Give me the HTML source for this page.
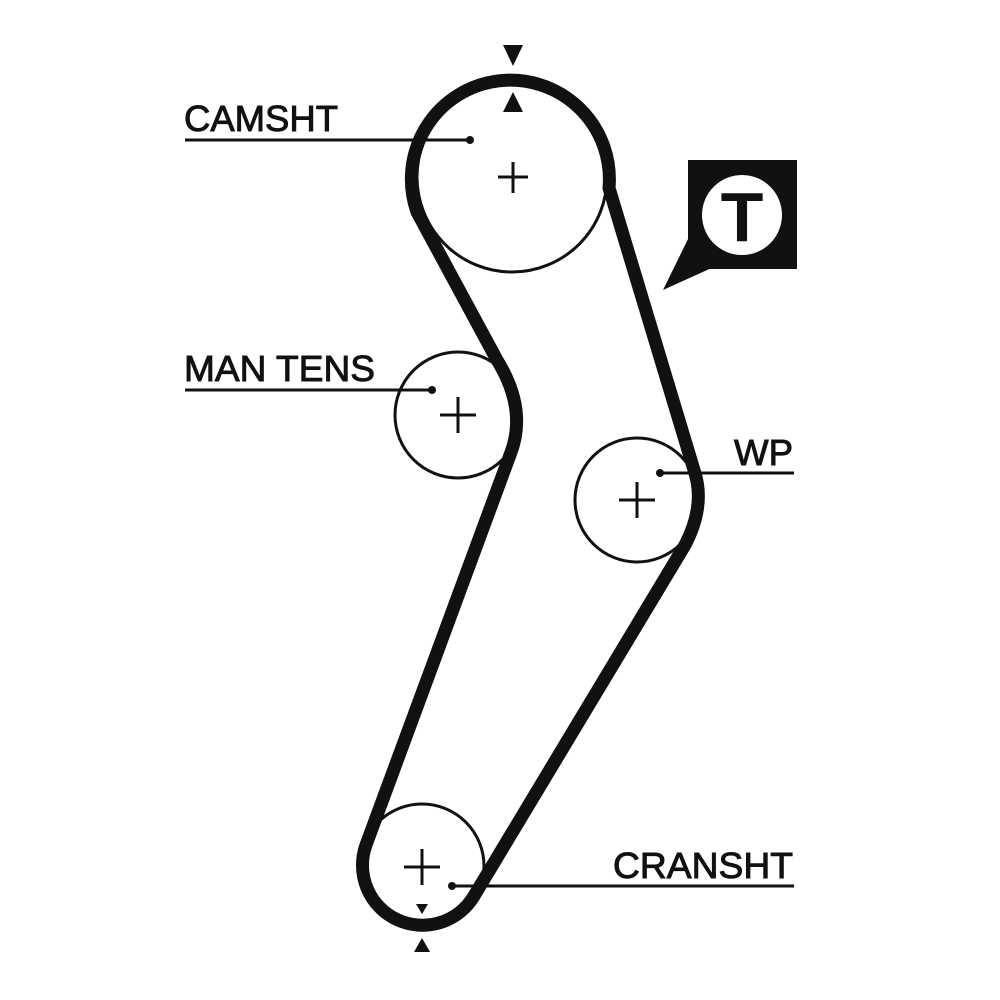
<!DOCTYPE html>
<html><head><meta charset="utf-8"><style>
html,body{margin:0;padding:0;background:#fff;}
svg{display:block;}
text{font-family:"Liberation Sans",Arial,sans-serif;fill:#111;stroke:#111;stroke-width:0.9;}
</style></head><body>
<svg width="1000" height="1000" viewBox="0 0 1000 1000" xmlns="http://www.w3.org/2000/svg">
<rect width="1000" height="1000" fill="#fff"/>
<g fill="none" stroke="#111" stroke-width="3">
<circle cx="512" cy="177" r="95"/>
<circle cx="458" cy="415" r="63"/>
<circle cx="637" cy="500" r="62"/>
<circle cx="422" cy="866" r="62"/>
</g>
<g stroke="#111" stroke-width="3">
<line x1="498" y1="177" x2="528" y2="177"/><line x1="513" y1="162" x2="513" y2="193"/>
<line x1="440" y1="415" x2="476" y2="415"/><line x1="458" y1="397" x2="458" y2="433"/>
<line x1="619" y1="500" x2="655" y2="500"/><line x1="637" y1="482" x2="637" y2="518"/>
<line x1="404" y1="867" x2="440" y2="867"/><line x1="422" y1="849" x2="422" y2="885"/>
</g>
<path d="M 609 188 A 99 99 0 1 0 417 212 L 497 360 Q 528 410 510 455 L 366 845 A 60 60 0 0 0 474 896 L 685 545 Q 706 505 694 470 Z" fill="none" stroke="#111" stroke-width="13" stroke-linejoin="round"/>
<g fill="#111">
<polygon points="503,45 523,45 513,66"/>
<polygon points="503,112 523,112 513,92"/>
<polygon points="416,904 428,904 422,914"/>
<polygon points="414,952 430,952 422,938"/>
</g>
<g stroke="#111" stroke-width="3">
<line x1="185" y1="140" x2="470" y2="140"/>
<line x1="185" y1="390" x2="432" y2="390"/>
<line x1="660" y1="473" x2="794" y2="473"/>
<line x1="452" y1="886" x2="794" y2="886"/>
</g>
<g fill="#111">
<circle cx="470" cy="140" r="4"/>
<circle cx="432" cy="390" r="4"/>
<circle cx="660" cy="473" r="4"/>
<circle cx="452" cy="886" r="4"/>
</g>
<text x="184" y="131" font-size="36" textLength="154" lengthAdjust="spacingAndGlyphs">CAMSHT</text>
<text x="184" y="381" font-size="36" textLength="191" lengthAdjust="spacingAndGlyphs">MAN TENS</text>
<text x="734" y="465" font-size="36" textLength="59" lengthAdjust="spacingAndGlyphs">WP</text>
<text x="613" y="878" font-size="36" textLength="180" lengthAdjust="spacingAndGlyphs">CRANSHT</text>
<rect x="688" y="160" width="109" height="109" fill="#111"/>
<polygon points="690,235 663,290 716,266" fill="#111"/>
<circle cx="742" cy="215" r="40" fill="#fff"/>
<text x="742" y="241" font-size="70" text-anchor="middle" font-weight="bold" style="stroke:none">T</text>
</svg>
</body></html>
